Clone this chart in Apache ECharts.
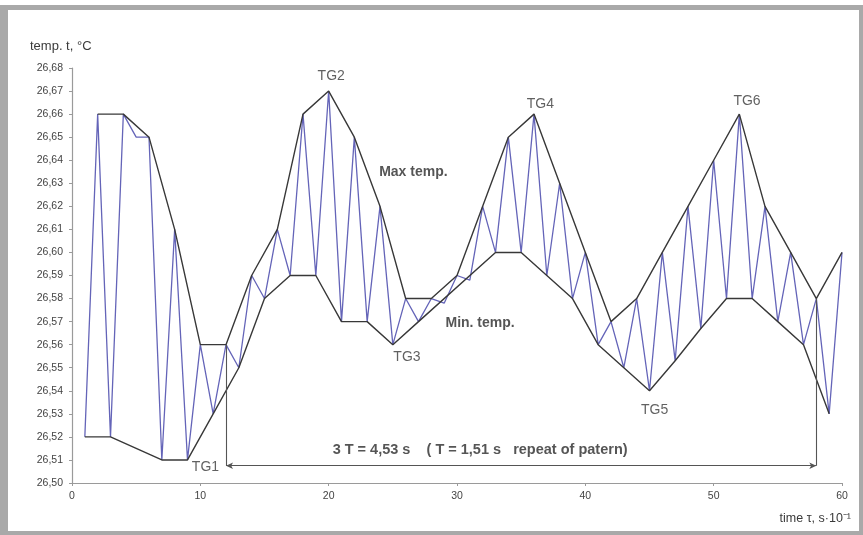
<!DOCTYPE html>
<html>
<head>
<meta charset="utf-8">
<script src="https://cdn.jsdelivr.net/npm/echarts@6/dist/echarts.min.js"></script>
<style>
    html, body { margin: 0; padding: 0; background: #fff; }
    #container { width: 863px; height: 535px; }
</style>
</head>
<body>
<div id="container"></div>
<script type="text/javascript">
    // measured temperature, one value per time step 1..60 (time in 0.1 s)
    var timeSteps = [1,2,3,4,5,6,7,8,9,10,11,12,13,14,15,16,17,18,19,20,
        21,22,23,24,25,26,27,28,29,30,31,32,33,34,35,36,37,38,39,40,
        41,42,43,44,45,46,47,48,49,50,51,52,53,54,55,56,57,58,59,60];
    var tempValues = [26.52,26.66,26.52,26.66,26.65,26.65,26.51,26.61,26.51,26.56,
        26.53,26.56,26.55,26.59,26.58,26.61,26.59,26.66,26.59,26.67,
        26.57,26.65,26.57,26.62,26.56,26.58,26.57,26.58,26.578,26.59,
        26.588,26.62,26.60,26.65,26.60,26.66,26.59,26.63,26.58,26.60,
        26.56,26.57,26.55,26.58,26.54,26.60,26.553,26.62,26.567,26.64,
        26.58,26.66,26.58,26.62,26.57,26.60,26.56,26.58,26.53,26.60];

    // envelope lines
    var maxTimes = [2,4,6,8,10,12,14,16,18,20,22,24,26,28,30,32,34,36,38,40,42,44,46,48,50,52,54,56,58,60];
    var maxTemps = [26.66,26.66,26.65,26.61,26.56,26.56,26.59,26.61,26.66,26.67,26.65,26.62,26.58,26.58,26.59,
        26.62,26.65,26.66,26.63,26.60,26.57,26.58,26.60,26.62,26.64,26.66,26.62,26.60,26.58,26.60];
    var minTimes = [1,3,7,9,11,13,15,17,19,21,23,25,27,33,35,37,39,41,43,45,47,49,51,53,55,57,59];
    var minTemps = [26.52,26.52,26.51,26.51,26.53,26.55,26.58,26.59,26.59,26.57,26.57,26.56,26.57,
        26.60,26.60,26.59,26.58,26.56,26.55,26.54,26.553,26.567,26.58,26.58,26.57,26.56,26.53];

    // axis ticks
    var yMin = 26.50, yMax = 26.68, yStep = 0.01;
    var xMin = 0, xMax = 60, xStep = 10;

    // annotations
    var noteTexts = ['TG1','TG2','TG3','TG4','TG5','TG6','Max temp.','Min. temp.',
        '3 T = 4,53 s    ( T = 1,51 s   repeat of patern)'];
    var noteX = [10.4,20.2,26.1,36.5,45.4,52.6,26.6,31.8,31.8];
    var noteY = [26.507,26.6765,26.5547,26.6645,26.5315,26.6655,26.6349,26.5693,26.5143];
    var noteBold = [false,false,false,false,false,false,true,true,true];
    var noteSize = [14,14,14,14,14,14,14,14,14.5];
    var periodStart = 12, periodEnd = 58, arrowLevel = 26.5075;

    function pairs(xs, ys) {
        var out = [];
        for (var i = 0; i < xs.length; i++) out.push([xs[i], ys[i]]);
        return out;
    }

    var notes = [];
    for (var k = 0; k < noteTexts.length; k++) {
        notes.push({
            name: noteTexts[k],
            value: [noteX[k], noteY[k]],
            label: { fontWeight: noteBold[k] ? 'bold' : 'normal', fontSize: noteSize[k],
                color: noteBold[k] ? '#2a2a2a' : '#3a3a3a' }
        });
    }

    var dom = document.getElementById("container");
    var myChart = echarts.init(dom, null, { renderer: 'canvas' });
    var option = {
        animation: false,
        backgroundColor: '#fff',
        textStyle: { fontFamily: 'Liberation Sans, Arial, sans-serif' },
        graphic: [
            { type: 'rect', shape: { x: 0, y: 5, width: 8, height: 530 }, style: { fill: '#a9a9a9' } },
            { type: 'rect', shape: { x: 0, y: 5, width: 863, height: 5 }, style: { fill: '#a9a9a9' } },
            { type: 'rect', shape: { x: 0, y: 531, width: 863, height: 4 }, style: { fill: '#a9a9a9' } },
            { type: 'rect', shape: { x: 859, y: 5, width: 4, height: 530 }, style: { fill: '#a9a9a9' } },
            { type: 'text', left: 30, top: 40, style: { text: 'temp. t, \u00B0C', fontSize: 13, fill: '#3a3a3a',
                fontFamily: 'Liberation Sans, Arial, sans-serif' } },
            { type: 'text', right: 12, top: 512, style: { text: 'time \u03C4, s\u00B710\u207B\u00B9', fontSize: 12.5,
                fill: '#3a3a3a', fontFamily: 'Liberation Sans, Arial, sans-serif' } }
        ],
        grid: { left: 72, right: 21, top: 68, bottom: 52 },
        xAxis: {
            type: 'value', min: xMin, max: xMax, interval: xStep,
            axisLine: { lineStyle: { color: '#9a9a9a', width: 1.2 } },
            axisTick: { show: true, length: 3, lineStyle: { color: '#9a9a9a' } },
            axisLabel: { color: '#444', fontSize: 10.5, margin: 8 },
            splitLine: { show: false }
        },
        yAxis: {
            type: 'value', min: yMin, max: yMax, interval: yStep,
            axisLine: { show: true, lineStyle: { color: '#9a9a9a', width: 1.2 } },
            axisTick: { show: true, length: 3, lineStyle: { color: '#9a9a9a' } },
            axisLabel: { color: '#444', fontSize: 10.5, margin: 9,
                formatter: function (v) { return v.toFixed(2).replace('.', ','); } },
            splitLine: { show: false }
        },
        series: [
            {
                name: 'temp', type: 'line', data: pairs(timeSteps, tempValues),
                symbol: 'none', silent: true,
                lineStyle: { color: '#6464b8', width: 1.3 }
            },
            {
                name: 'Max temp.', type: 'line', data: pairs(maxTimes, maxTemps),
                symbol: 'none', silent: true,
                lineStyle: { color: '#383838', width: 1.4 }
            },
            {
                name: 'Min. temp.', type: 'line', data: pairs(minTimes, minTemps),
                symbol: 'none', silent: true,
                lineStyle: { color: '#383838', width: 1.4 }
            },
            {
                name: 'notes', type: 'scatter', data: notes, symbolSize: 1, silent: true,
                itemStyle: { color: 'rgba(0,0,0,0)' },
                label: { show: true, position: 'inside', formatter: '{b}' },
                markLine: {
                    silent: true, animation: false,
                    lineStyle: { color: '#555', width: 1.1, type: 'solid' },
                    label: { show: false },
                    data: [
                        [{ coord: [periodStart, arrowLevel], symbol: 'arrow', symbolSize: [5, 7] },
                         { coord: [periodEnd, arrowLevel], symbol: 'arrow', symbolSize: [5, 7] }],
                        [{ coord: [periodStart, maxTemps[5]], symbol: 'none' },
                         { coord: [periodStart, arrowLevel], symbol: 'none' }],
                        [{ coord: [periodEnd, maxTemps[28]], symbol: 'none' },
                         { coord: [periodEnd, arrowLevel], symbol: 'none' }]
                    ]
                }
            }
        ]
    };
    myChart.setOption(option);
</script>
</body>
</html>
